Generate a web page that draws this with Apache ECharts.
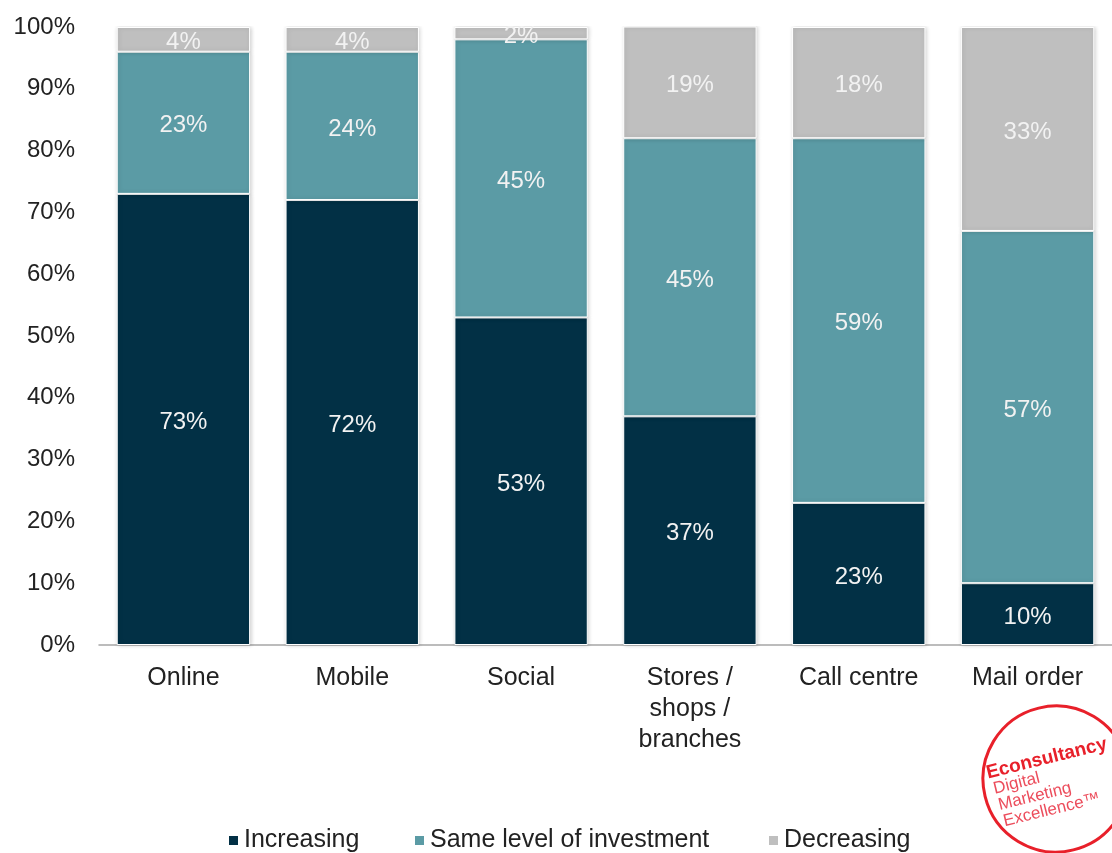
<!DOCTYPE html>
<html>
<head>
<meta charset="utf-8">
<script src="https://cdn.jsdelivr.net/npm/echarts@6/dist/echarts.min.js"></script>
<style>
  html, body { margin: 0; padding: 0; background: #fff; }
  #chart { width: 1112px; height: 853px; }
</style>
</head>
<body>
<div id="chart"></div>
<script>
// Channel investment plans: share of respondents per channel
const categories = ['Online', 'Mobile', 'Social', 'Stores /\nshops /\nbranches', 'Call centre', 'Mail order'];
const increasing = [73, 72, 53, 37, 23, 10];
const sameLevel = [23, 24, 45, 45, 59, 57];
const decreasing = [4, 4, 2, 19, 18, 33];
const yTicks = [0, 10, 20, 30, 40, 50, 60, 70, 80, 90, 100];
const seriesNames = ['Increasing', 'Same level of investment', 'Decreasing'];

const FONT = 'Liberation Sans, Arial, sans-serif';
const colors = ['#023045', '#5b9ba5', '#bfbfbf'];

const chart = echarts.init(document.getElementById('chart'), null, { renderer: 'canvas' });

function barSeries(name, data, color) {
  return {
    name: name,
    type: 'bar',
    stack: 'total',
    data: data,
    barCategoryGap: '21%',
    clip: true,
    itemStyle: {
      color: color,
      borderColor: '#ffffff',
      borderWidth: 1,
      shadowBlur: 4,
      shadowColor: 'rgba(0,0,0,0.18)',
      shadowOffsetX: 1,
      shadowOffsetY: 0
    },
    label: {
      show: true,
      position: 'inside',
      offset: [0, 3],
      formatter: '{c}%',
      color: '#f2f2f2',
      fontFamily: FONT,
      fontSize: 24
    },
    emphasis: { disabled: true }
  };
}

function legendAt(name, left) {
  return {
    data: [name],
    left: left,
    top: 823,
    icon: 'rect',
    itemWidth: 11,
    itemHeight: 11,
    selectedMode: false,
    textStyle: { fontFamily: FONT, fontSize: 25, color: '#222' }
  };
}

const option = {
  animation: false,
  backgroundColor: '#ffffff',
  grid: { left: 99, right: -1, top: 27, bottom: 208, containLabel: false },
  legend: [
    legendAt(seriesNames[0], 222),
    legendAt(seriesNames[1], 408),
    legendAt(seriesNames[2], 762)
  ],
  xAxis: {
    type: 'category',
    data: categories,
    axisLine: { show: true, lineStyle: { color: '#a6a6a6', width: 1.5 } },
    axisTick: { show: false },
    axisLabel: {
      color: '#222',
      fontFamily: FONT,
      fontSize: 25,
      lineHeight: 31,
      margin: 18,
      interval: 0
    }
  },
  yAxis: {
    type: 'value',
    min: 0,
    max: 100,
    interval: 10,
    axisLine: { show: false },
    axisTick: { show: false },
    splitLine: { show: false },
    axisLabel: {
      color: '#222',
      fontFamily: FONT,
      fontSize: 24,
      margin: 24,
      formatter: function (v) { return yTicks.indexOf(v) >= 0 ? v + '%' : ''; }
    }
  },
  series: [
    barSeries(seriesNames[0], increasing, colors[0]),
    barSeries(seriesNames[1], sameLevel, colors[1]),
    barSeries(seriesNames[2], decreasing, colors[2])
  ],
  graphic: [
    // trims bar labels that would spill above the plot top
    {
      type: 'rect',
      z: 100,
      silent: true,
      shape: { x: 105, y: 0, width: 1007, height: 26 },
      style: { fill: '#ffffff' }
    },
    // brand stamp in the lower-right corner
    {
      type: 'group',
      z: 110,
      x: 1056,
      y: 779,
      rotation: 0.24,
      children: [
        {
          type: 'circle',
          shape: { cx: 0, cy: 0, r: 73 },
          style: { fill: 'none', stroke: '#e8202a', lineWidth: 3 }
        },
        {
          type: 'text',
          x: -66, y: -22,
          style: {
            text: 'Econsultancy', fontFamily: FONT, fontWeight: 'bold', fontSize: 19,
            fill: '#e8202a', verticalAlign: 'middle', align: 'left'
          }
        },
        {
          type: 'text',
          x: -63, y: -5,
          style: {
            text: 'Digital', fontFamily: FONT, fontSize: 17,
            fill: '#ec4d5c', verticalAlign: 'middle', align: 'left'
          }
        },
        {
          type: 'text',
          x: -62, y: 12,
          style: {
            text: 'Marketing', fontFamily: FONT, fontSize: 17,
            fill: '#ec4d5c', verticalAlign: 'middle', align: 'left'
          }
        },
        {
          type: 'text',
          x: -61, y: 29,
          style: {
            text: 'Excellence\u2122', fontFamily: FONT, fontSize: 17,
            fill: '#ec4d5c', verticalAlign: 'middle', align: 'left'
          }
        }
      ]
    }
  ]
};

chart.setOption(option);
</script>
</body>
</html>
